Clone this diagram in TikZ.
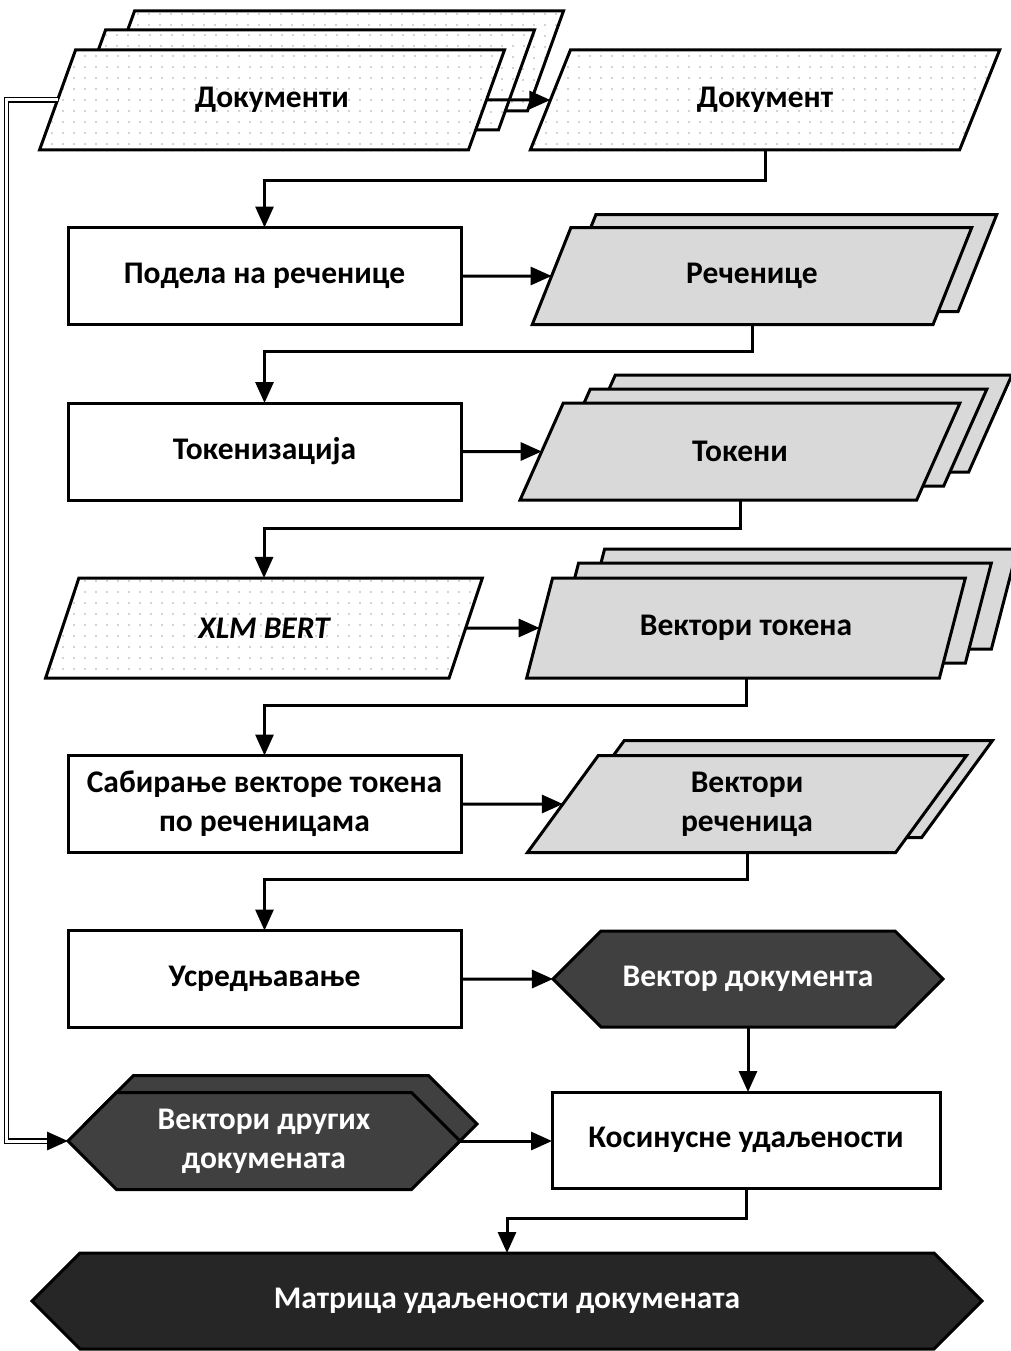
\documentclass[tikz,border=0pt]{standalone}
\usepackage{fontspec}
\setmainfont{Carlito}
\usetikzlibrary{shapes.geometric,shapes.symbols,patterns.meta,arrows.meta}
\definecolor{lg}{HTML}{D9D9D9}
\definecolor{dk}{HTML}{404040}
\definecolor{vdk}{HTML}{262626}
\pgfdeclarelayer{back}
\pgfsetlayers{back,main}
\newcommand\stackcopy[4]{%
 \path[#4] ([shift={(#2,#3)}]#1.bottom left corner) -- ([shift={(#2,#3)}]#1.top left corner) -- ([shift={(#2,#3)}]#1.top right corner) -- ([shift={(#2,#3)}]#1.bottom right corner) -- cycle;}
\begin{document}
\begin{tikzpicture}[x=1pt,y=-1pt,
 every node/.style={font=\fontsize{31.5}{39}\selectfont\bfseries, inner sep=0pt, outer sep=0pt},
 base/.style={draw, line width=3pt, line join=miter},
 dotfill/.style={base, preaction={fill=white}, pattern={Dots[distance=10.5pt,radius=0.9pt]}, pattern color=gray!70},
 grayfill/.style={base, fill=lg},
 para/.style={base, trapezium, trapezium left angle=65, trapezium right angle=115, trapezium stretches=true, minimum height=97pt, inner sep=3pt, align=center},
 dotpara/.style={para, dotfill},
 graypara/.style={para, grayfill},
 box/.style={base, rectangle, fill=white, minimum width=393pt, minimum height=97pt, align=center},
 hex/.style={base, signal, signal to=west and east, signal pointer angle=90, fill=dk, text=white, align=center, inner sep=3pt},
 arr/.style={line width=3pt, -{Triangle[length=21pt,width=18pt]}},
 dbl/.style={double, double distance=3pt, line width=1.2pt},
]
\useasboundingbox (0,0) rectangle (1010,1351);
% row 1
\node[dotpara, minimum width=465pt, minimum height=100pt] (docs) at (272,100) {Документи};
\node[dotpara, minimum width=470pt, minimum height=100pt] (doc) at (765,100) {Документ};
% row 2
\node[box] (split) at (264.5,276) {Подела на реченице};
\node[graypara, minimum width=440pt] (sent) at (752,276) {Реченице};
% row 3
\node[box] (tokz) at (264.5,451.5) {Токенизација};
\node[graypara, minimum width=440pt] (tok) at (740,451.5) {Токени};
% row 4
\node[dotpara, minimum width=437pt, minimum height=100pt] (xlm) at (264,628) {\itshape XLM BERT};
\node[graypara, minimum width=440pt, minimum height=100pt] (vtok) at (746,628) {Вектори токена};
% row 5
\node[box] (sum) at (264.5,804) {Сабирање векторе токена\\по реченицама};
\node[graypara, minimum width=440pt] (vsent) at (747,804) {Вектори\\реченица};
% row 6
\node[box] (avg) at (264.5,979) {Усредњавање};
\node[hex, minimum width=390pt, minimum height=96pt] (docvec) at (748,979) {Вектор документа};
% row 7
\node[box, minimum width=388pt, minimum height=96pt] (cos) at (746,1140) {Косинусне удаљености};
\node[hex, minimum width=392pt, minimum height=97pt] at (281,1124) {\strut};
\node[hex, minimum width=392pt, minimum height=97pt] (others) at (264,1141) {Вектори других\\докумената};
% row 8
\node[hex, fill=vdk, minimum width=950pt, minimum height=96pt] (mat) at (507,1301) {Матрица удаљености докумената};
% stacked copies behind
\begin{pgfonlayer}{back}
\stackcopy{docs}{59}{-39}{dotfill}
\stackcopy{docs}{30}{-20}{dotfill}
\stackcopy{sent}{25}{-13}{grayfill}
\stackcopy{tok}{52}{-28}{grayfill}
\stackcopy{tok}{27}{-14}{grayfill}
\stackcopy{vtok}{52}{-29}{grayfill}
\stackcopy{vtok}{26}{-15}{grayfill}
\stackcopy{vsent}{26}{-15}{grayfill}
\end{pgfonlayer}
% connectors
\draw[arr] (docs) -- (doc);
\draw[arr] (doc.south) -- ++(0,30) -| (split.north);
\draw[arr] (split) -- (sent);
\draw[arr] (sent.south) -- ++(0,27) -| (tokz.north);
\draw[arr] (tokz) -- (tok);
\draw[arr] (tok.south) -- ++(0,28) -| (xlm.north);
\draw[arr] (xlm) -- (vtok);
\draw[arr] (vtok.south) -- ++(0,27) -| (sum.north);
\draw[arr] (sum) -- (vsent);
\draw[arr] (vsent.south) -- ++(0,27) -| (avg.north);
\draw[arr] (avg) -- (docvec);
\draw[arr] (docvec.south) -- (docvec.south |- cos.north);
\draw[arr] (others.east) -- (others.east -| cos.west);
\draw[arr] (cos.south) -- ++(0,30) -| (mat.north);
\coordinate (dblend) at ([xshift=-21pt]others.west);
\draw[dbl] (docs.left side) -- ++(-51,0) |- (dblend);
\draw[arr] (dblend) -- (others.west);
\end{tikzpicture}
\end{document}
